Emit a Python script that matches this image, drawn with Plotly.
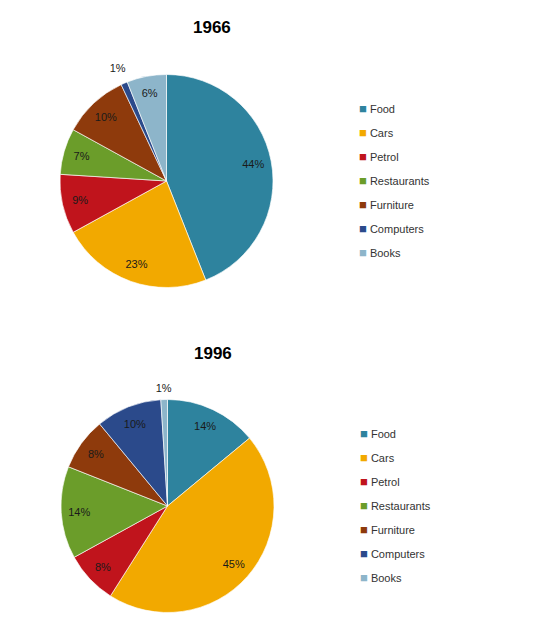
import plotly.graph_objects as go

categories = ["Food", "Cars", "Petrol", "Restaurants", "Furniture", "Computers", "Books"]
values_1966 = [44, 23, 9, 7, 10, 1, 6]
values_1996 = [14, 45, 8, 14, 8, 10, 1]
titles = ["1966", "1996"]
colors = ["#2E839E", "#F2A900", "#C0141C", "#6B9D2A", "#8E3A0C", "#2B4A8B", "#8DB5CA"]

W, H = 539, 630
FONT = "Liberation Sans"
LABEL_FONT = dict(family=FONT, size=11, color="#1A1A1A")

# pie geometry (pixels): centre and radius
pies = [dict(cx=166.5, cy=181.0, r=106.5, out=1.19),
        dict(cx=167.5, cy=506.0, r=106.5, out=1.145)]

def domain(cx, cy, r):
    return dict(x=[(cx - r) / W, (cx + r) / W], y=[1 - (cy + r) / H, 1 - (cy - r) / H])

fig = go.Figure()

for p, vals in zip(pies, [values_1966, values_1996]):
    inner_text = [f"{v}%" if v > 1 else "" for v in vals]
    outer_text = [f"{v}%" if v <= 1 else "" for v in vals]
    common = dict(labels=categories, values=vals, sort=False, direction="clockwise",
                  rotation=0, showlegend=False)
    # coloured slices
    fig.add_trace(go.Pie(
        **common,
        marker=dict(colors=colors, line=dict(color="rgba(255,255,255,0.8)", width=0.8)),
        textinfo="none",
        domain=domain(p["cx"], p["cy"], p["r"]),
        hoverinfo="label+percent",
    ))
    # transparent ring carrying the inside data labels (near the rim)
    fig.add_trace(go.Pie(
        **common,
        hole=0.66,
        marker=dict(colors=["rgba(0,0,0,0)"] * len(vals), line=dict(width=0)),
        text=inner_text, textinfo="text", textposition="inside",
        insidetextorientation="horizontal",
        textfont=LABEL_FONT, insidetextfont=LABEL_FONT,
        domain=domain(p["cx"], p["cy"], p["r"]),
        hoverinfo="skip",
    ))
    # transparent outer ring carrying the labels of the tiny slices
    fig.add_trace(go.Pie(
        **common,
        hole=0.9,
        marker=dict(colors=["rgba(0,0,0,0)"] * len(vals), line=dict(width=0)),
        text=outer_text, textinfo="text", textposition="inside",
        insidetextorientation="horizontal",
        textfont=LABEL_FONT, insidetextfont=LABEL_FONT,
        domain=domain(p["cx"], p["cy"], p["r"] * p["out"]),
        hoverinfo="skip",
    ))

# legend entries (one legend per chart)
for lname in ["legend", "legend2"]:
    for c, col in zip(categories, colors):
        fig.add_trace(go.Scatter(
            x=[None], y=[None], mode="markers",
            name=f"<span style='color:{col};font-size:13px'>■</span> {c}",
            marker=dict(symbol="square", size=1, color="rgba(0,0,0,0)", line=dict(width=0)),
            legend=lname, legendgroup=f"{lname}_{c}", showlegend=True, hoverinfo="skip",
        ))

legend_common = dict(
    font=dict(family=FONT, size=11, color="#333333"),
    bgcolor="rgba(0,0,0,0)", borderwidth=0,
    tracegroupgap=5, xanchor="left", yanchor="top", itemwidth=30,
)

fig.update_layout(
    width=W, height=H,
    margin=dict(l=0, r=0, t=0, b=0),
    paper_bgcolor="white", plot_bgcolor="white",
    xaxis=dict(visible=False), yaxis=dict(visible=False),
    legend=dict(x=319 / W, y=1 - 94 / H, **legend_common),
    legend2=dict(x=320 / W, y=1 - 419 / H, **legend_common),
    uniformtext=dict(minsize=11, mode="show"),
    annotations=[
        dict(text=f"<b>{titles[0]}</b>", x=212 / W, y=1 - 28 / H, xref="paper", yref="paper",
             xanchor="center", yanchor="middle", showarrow=False,
             font=dict(family=FONT, size=17, color="#000000")),
        dict(text=f"<b>{titles[1]}</b>", x=213 / W, y=1 - 353 / H, xref="paper", yref="paper",
             xanchor="center", yanchor="middle", showarrow=False,
             font=dict(family=FONT, size=17, color="#000000")),
    ],
)

fig.write_html("out.html", config={"displayModeBar": False},
               post_script="document.body.style.margin='0';")
